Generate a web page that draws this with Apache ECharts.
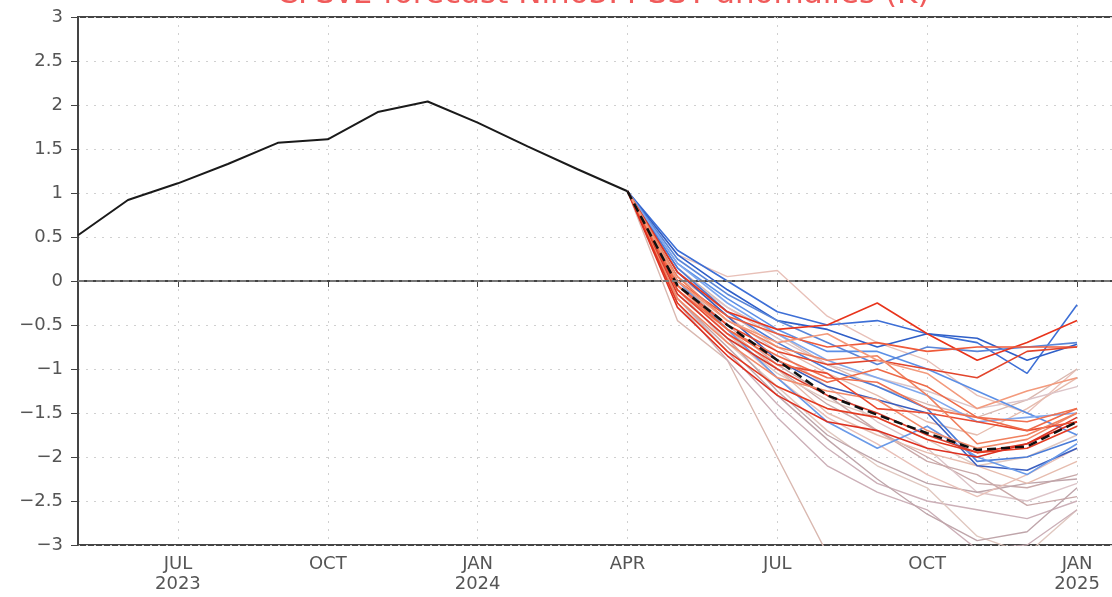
<!DOCTYPE html>
<html>
<head>
<meta charset="utf-8">
<script src="https://cdn.jsdelivr.net/npm/echarts@6/dist/echarts.min.js"></script>
<style>
  html, body { margin: 0; padding: 0; background: #fff; }
  #chart { width: 1112px; height: 597px; }
</style>
</head>
<body>
<div id="chart"></div>
<script>
// months on the x axis, May 2023 .. Feb 2025
const months = ['May 2023', 'Jun 2023', 'Jul 2023', 'Aug 2023', 'Sep 2023', 'Oct 2023', 'Nov 2023', 'Dec 2023',
  'Jan 2024', 'Feb 2024', 'Mar 2024', 'Apr 2024', 'May 2024', 'Jun 2024', 'Jul 2024', 'Aug 2024', 'Sep 2024',
  'Oct 2024', 'Nov 2024', 'Dec 2024', 'Jan 2025', 'Feb 2025'];
const tickLabels = { 2: 'JUL\n2023', 5: 'OCT', 8: 'JAN\n2024', 11: 'APR', 14: 'JUL', 17: 'OCT', 20: 'JAN\n2025' };

// observed, May 2023 .. Apr 2024
const observed = [0.52, 0.92, 1.11, 1.33, 1.57, 1.61, 1.92, 2.04, 1.80, 1.53, 1.27, 1.02];

// forecasts, Apr 2024 .. Jan 2025
const forecastStart = 11;
const ensMean = [1.02, -0.05, -0.5, -0.9, -1.3, -1.52, -1.73, -1.92, -1.88, -1.6];

const blueMembers = [
  [1.02, 0.35, 0.0, -0.35, -0.5, -0.45, -0.6, -0.7, -1.05, -0.27],
  [1.02, 0.3, -0.1, -0.45, -0.55, -0.75, -0.6, -0.65, -0.9, -0.72],
  [1.02, 0.2, -0.2, -0.55, -0.8, -0.8, -1.0, -1.25, -1.5, -1.75],
  [1.02, 0.15, -0.35, -0.7, -1.0, -1.2, -1.45, -2.05, -2.0, -1.8],
  [1.02, 0.1, -0.4, -0.9, -1.2, -1.35, -1.5, -2.1, -2.15, -1.9],
  [1.02, 0.0, -0.55, -1.1, -1.6, -1.9, -1.65, -2.0, -2.2, -1.85],
  [1.02, 0.25, -0.15, -0.45, -0.7, -0.95, -0.75, -0.8, -0.75, -0.7],
  [1.02, 0.2, -0.25, -0.6, -0.9, -1.1, -1.3, -1.6, -1.55, -1.5]
];
const blueColors = ['#3d6fd6', '#2f5fc8', '#5b8fe6', '#4a7cd8', '#3b5fbf', '#6a9ae8', '#5a86d8', '#7fa8ee'];

const redMembers = [
  [1.02, 0.1, -0.35, -0.55, -0.5, -0.25, -0.6, -0.9, -0.7, -0.45],
  [1.02, 0.0, -0.4, -0.6, -0.75, -0.7, -0.8, -0.75, -0.75, -0.75],
  [1.02, -0.05, -0.5, -0.8, -0.95, -0.9, -1.0, -1.1, -0.8, -0.75],
  [1.02, -0.1, -0.55, -0.85, -1.1, -1.15, -1.45, -1.55, -1.6, -1.45],
  [1.02, -0.15, -0.65, -1.0, -1.3, -1.5, -1.75, -1.95, -1.85, -1.55],
  [1.02, -0.2, -0.7, -1.1, -1.25, -1.35, -1.7, -1.9, -1.8, -1.5],
  [1.02, -0.1, -0.6, -0.95, -1.05, -1.45, -1.5, -1.6, -1.7, -1.6],
  [1.02, -0.25, -0.8, -1.2, -1.45, -1.55, -1.8, -1.95, -1.9, -1.65],
  [1.02, 0.05, -0.45, -0.75, -0.9, -0.85, -1.3, -1.85, -1.75, -1.5],
  [1.02, -0.05, -0.55, -0.9, -1.15, -1.0, -1.2, -1.55, -1.7, -1.45],
  [1.02, -0.3, -0.85, -1.3, -1.6, -1.7, -1.9, -2.0, -1.85, -1.6],
  [1.02, 0.0, -0.45, -0.7, -0.6, -0.9, -1.05, -1.45, -1.25, -1.1]
];
const redColors = ['#e8341c', '#ef5a3a', '#e2452c', '#f07050', '#d83a2a', '#f28a6a', '#ea4a30', '#e33b22',
  '#f0805e', '#ee6a48', '#dd3020', '#f39a7c'];

const paleMembers = [
  [1.02, 0.3, 0.05, 0.12, -0.4, -0.7, -0.9, -1.3, -1.5, -1.0],
  [1.02, -0.45, -0.9, -2.0, -3.1, -3.5, -3.5, -3.5, -3.5, -3.5],
  [1.02, -0.2, -0.8, -1.4, -1.9, -2.3, -2.5, -2.6, -2.7, -2.5],
  [1.02, -0.1, -0.7, -1.2, -1.7, -2.1, -2.35, -2.9, -3.1, -2.6],
  [1.02, 0.0, -0.55, -1.0, -1.4, -1.7, -2.0, -2.3, -2.35, -2.2],
  [1.02, 0.1, -0.4, -0.8, -1.2, -1.6, -1.9, -2.4, -2.5, -2.3],
  [1.02, -0.15, -0.65, -1.25, -1.75, -2.05, -2.3, -2.4, -2.3, -2.25],
  [1.02, 0.05, -0.35, -0.75, -1.05, -1.3, -1.6, -1.75, -1.45, -1.1],
  [1.02, -0.05, -0.6, -1.1, -1.55, -1.85, -2.2, -2.45, -2.2, -1.9],
  [1.02, 0.15, -0.3, -0.6, -0.95, -1.2, -1.4, -1.55, -1.35, -1.0],
  [1.02, -0.25, -0.9, -1.55, -2.1, -2.4, -2.6, -3.05, -3.0, -2.6],
  [1.02, -0.1, -0.6, -1.05, -1.35, -1.55, -1.8, -2.1, -2.0, -1.75],
  [1.02, 0.0, -0.5, -0.95, -1.3, -1.7, -2.05, -2.2, -2.55, -2.45],
  [1.02, 0.1, -0.3, -0.65, -0.95, -1.1, -1.25, -1.45, -1.35, -1.2],
  [1.02, -0.2, -0.75, -1.3, -1.8, -2.25, -2.65, -2.95, -2.85, -2.35],
  [1.02, -0.05, -0.55, -1.0, -1.5, -1.75, -1.95, -2.1, -2.3, -2.05]
];
const paleColors = ['#e8c0b8', '#d9b8b0', '#ccb0b8', '#e0c8c0', '#c9a9a9', '#dcc4c8', '#bfa5aa', '#e6bcae'];

const chart = echarts.init(document.getElementById('chart'));

// put forecast values at their month slots
function pad(vals) {
  const arr = months.map(() => null);
  vals.forEach((v, i) => { arr[forecastStart + i] = v; });
  return arr;
}

function member(vals, color, width) {
  return {
    type: 'line',
    data: pad(vals),
    symbol: 'none',
    silent: true,
    animation: false,
    lineStyle: { color: color, width: width }
  };
}

const series = [];
paleMembers.forEach((m, i) => series.push(member(m, paleColors[i % paleColors.length], 1.4)));
blueMembers.forEach((m, i) => series.push(member(m, blueColors[i], 1.6)));
redMembers.forEach((m, i) => series.push(member(m, redColors[i], 1.6)));
series.push({
  type: 'line',
  data: pad(ensMean),
  symbol: 'none',
  animation: false,
  lineStyle: { color: '#111', width: 2.5, type: [9, 5] }
});
series.push({
  type: 'line',
  data: observed,
  symbol: 'none',
  animation: false,
  lineStyle: { color: '#1a1a1a', width: 2 },
  markLine: {
    silent: true,
    symbol: 'none',
    label: { show: false },
    lineStyle: { color: '#777', width: 2, type: [6, 3] },
    data: [{ yAxis: 0 }]
  }
});

const showTick = (idx) => tickLabels[idx] !== undefined;
const labelFont = 'DejaVu Sans';

chart.setOption({
  backgroundColor: '#fff',
  title: {
    text: 'CFSv2 forecast Nino3.4 SST anomalies (K)',
    left: 598,
    textAlign: 'center',
    top: -26,
    textStyle: { color: '#f05a5a', fontSize: 31, fontWeight: 'normal', fontFamily: labelFont }
  },
  // plot box runs past the right edge of the picture
  grid: {
    left: 78, width: 1049, top: 17, bottom: 52,
    outerBoundsMode: 'none',
    show: true, borderColor: '#444', borderWidth: 2
  },
  xAxis: {
    type: 'category',
    data: months,
    boundaryGap: false,
    axisLine: { lineStyle: { color: '#444', width: 2 } },
    axisTick: { interval: (idx) => showTick(idx), length: 6, lineStyle: { color: '#444' } },
    axisLabel: {
      interval: (idx) => showTick(idx),
      formatter: (v, idx) => tickLabels[idx] || '',
      color: '#555',
      fontSize: 18,
      lineHeight: 20,
      margin: 9,
      fontFamily: labelFont
    },
    splitLine: { show: true, interval: (idx) => showTick(idx), lineStyle: { color: '#d0d0d0', type: [2, 6] } }
  },
  yAxis: {
    type: 'value',
    min: -3,
    max: 3,
    interval: 0.5,
    axisLine: { show: true, lineStyle: { color: '#444', width: 2 } },
    axisTick: { show: true, length: 7, lineStyle: { color: '#444' } },
    axisLabel: {
      color: '#555',
      fontSize: 18,
      margin: 15,
      fontFamily: labelFont,
      formatter: (v) => String(v).replace('-', '\u2212')
    },
    splitLine: { show: true, lineStyle: { color: '#d0d0d0', type: [2, 6] } }
  },
  series: series
});
</script>
</body>
</html>
